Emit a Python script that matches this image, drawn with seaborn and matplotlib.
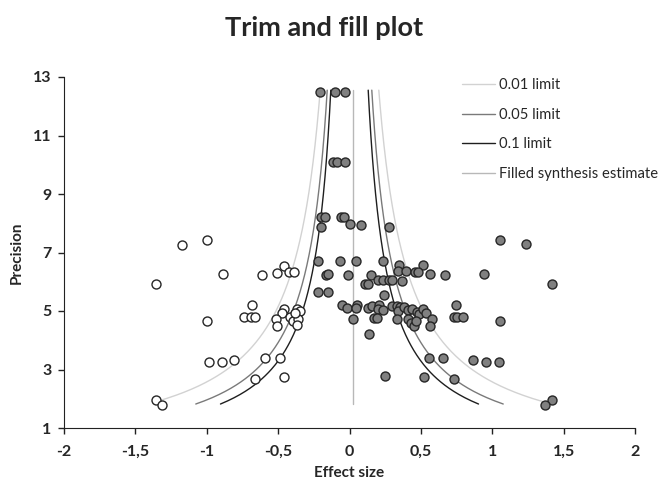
import numpy as np
import pandas as pd
import seaborn as sns
import matplotlib.pyplot as plt

# observed studies (grey)
obs_effect = [-0.21, -0.10, -0.03,
              -0.115, -0.09, -0.035,
              -0.20, -0.17, -0.06, -0.04,
              -0.20, 0.00, 0.08, 0.28,
              1.054, 1.236,
              -0.218, -0.067, 0.043, 0.233,
              0.347, 0.517, 0.338, 0.394, 0.459, 0.482, 0.564, 0.671, 0.942, 1.419,
              -0.167, -0.149, -0.01, 0.151,
              0.109, 0.132, 0.197, 0.237, 0.279, 0.296, 0.366,
              -0.218, -0.149, 0.242,
              -0.05, -0.02, 0.05, 0.045, 0.132, 0.155, 0.209, 0.197, 0.233, 0.296,
              0.331, 0.354, 0.338, 0.384, 0.412, 0.436, 0.471, 0.487, 0.517, 0.536,
              0.576, 0.564,
              0.412, 0.431, 0.454, 0.466, 0.025, 0.172, 0.19, 0.331, 0.139,
              0.746, 0.732, 0.755, 0.797, 1.054,
              0.555, 0.653, 0.867, 0.954, 1.05,
              0.251, 0.520, 0.734, 1.419, 1.372]
obs_prec = [12.5, 12.5, 12.5,
            10.1, 10.1, 10.1,
            8.22, 8.22, 8.22, 8.22,
            7.88, 7.96, 7.95, 7.88,
            7.43, 7.28,
            6.72, 6.72, 6.72, 6.72,
            6.57, 6.57, 6.38, 6.38, 6.33, 6.33, 6.28, 6.24, 6.28, 5.93,
            6.23, 6.25, 6.24, 6.24,
            5.91, 5.93, 6.06, 6.06, 6.06, 6.06, 6.03,
            5.64, 5.64, 5.55,
            5.19, 5.09, 5.19, 5.09, 5.11, 5.17, 5.19, 5.08, 5.03, 5.17,
            5.17, 5.12, 5.0, 5.12, 5.03, 5.06, 4.96, 4.90, 5.07, 4.94,
            4.73, 4.48,
            4.72, 4.58, 4.49, 4.67, 4.72, 4.75, 4.77, 4.72, 4.22,
            5.19, 4.78, 4.78, 4.78, 4.67,
            3.39, 3.40, 3.31, 3.26, 3.26,
            2.78, 2.74, 2.69, 1.95, 1.79]

# imputed (filled) studies (hollow)
fill_effect = [-1.176, -0.998, -1.358, -0.884, -0.613, -0.506, -0.461, -0.422, -0.387,
               -0.683, -0.739, -0.690, -0.662, -0.998, -0.459, -0.471, -0.513, -0.506,
               -0.419, -0.394, -0.366, -0.347, -0.359, -0.366, -0.380,
               -0.986, -0.891, -0.811, -0.594, -0.489, -0.662, -0.459, -1.358, -1.311]
fill_prec = [7.26, 7.43, 5.93, 6.28, 6.24, 6.29, 6.55, 6.32, 6.32,
             5.19, 4.79, 4.79, 4.79, 4.67, 5.07, 4.92, 4.72, 4.48,
             4.78, 4.67, 5.07, 5.0, 4.72, 4.52, 4.92,
             3.26, 3.26, 3.31, 3.39, 3.39, 2.69, 2.74, 1.96, 1.79]

# funnel limits
limit_labels = ["0.01 limit", "0.05 limit", "0.1 limit"]
limit_z = [2.576, 1.96, 1.645]
limit_colors = ["#d2d2d2", "#7a7a7a", "#1e1e1e"]
limit_pmin = [1.9, 1.82, 1.82]
funnel_center = 0.0
prec_top = 12.55
filled_estimate = 0.025

sns.set_style("ticks")
plt.rcParams["font.family"] = ["Lato", "DejaVu Sans"]

fig = plt.figure(figsize=(6.62, 4.82), dpi=100)
ax = fig.add_axes([64 / 662, 1 - 428 / 482, (635 - 64) / 662, (428 - 77) / 482])

for lab, z, col, pmin in zip(limit_labels, limit_z, limit_colors, limit_pmin):
    p = np.linspace(pmin, prec_top, 200)
    ax.plot(funnel_center - z / p, p, color=col, lw=1.0, label=lab, zorder=1)
    ax.plot(funnel_center + z / p, p, color=col, lw=1.0, zorder=1)

ax.plot([filled_estimate, filled_estimate], [1.82, prec_top], color="#b8b8b8",
        lw=1.0, label="Filled synthesis estimate", zorder=1)

obs = pd.DataFrame({"effect": obs_effect, "precision": obs_prec})
fill = pd.DataFrame({"effect": fill_effect, "precision": fill_prec})
sns.scatterplot(data=obs, x="effect", y="precision", ax=ax, s=42,
                color="#808080", edgecolor="#262626", linewidth=1.0, zorder=3)
sns.scatterplot(data=fill, x="effect", y="precision", ax=ax, s=42,
                color="white", edgecolor="#262626", linewidth=1.0, zorder=3)

ax.set_xlim(-2, 2)
ax.set_ylim(1, 13)
xt = [-2, -1.5, -1, -0.5, 0, 0.5, 1, 1.5, 2]
ax.set_xticks(xt)
ax.set_xticklabels(["-2", "-1,5", "-1", "-0,5", "0", "0,5", "1", "1,5", "2"],
                   fontweight="bold", fontsize=11.5)
yt = [1, 3, 5, 7, 9, 11, 13]
ax.set_yticks(yt)
ax.set_yticklabels([str(v) for v in yt], fontweight="bold", fontsize=11.5)
ax.tick_params(length=4, width=1, color="#222222")
ax.tick_params(axis="x", pad=8)
ax.tick_params(axis="y", pad=5)
ax.spines["left"].set_color("#222222")
ax.spines["bottom"].set_color("#222222")
sns.despine(ax=ax)

ax.set_xlabel("Effect size", fontweight="bold", fontsize=11, labelpad=5)
ax.set_ylabel("Precision", fontweight="bold", fontsize=11, labelpad=7)

fig.text(0.49, 1 - 28 / 482, "Trim and fill plot", ha="center", va="center",
         fontsize=19.5, fontweight="bold")

leg = ax.legend(loc="upper left", bbox_to_anchor=(455 / 662, 1 - 71 / 482),
                bbox_transform=fig.transFigure, frameon=False, fontsize=10.6,
                handlelength=2.2, handletextpad=0.3, labelspacing=1.05,
                borderpad=0)

plt.savefig("out.png", dpi=100)
